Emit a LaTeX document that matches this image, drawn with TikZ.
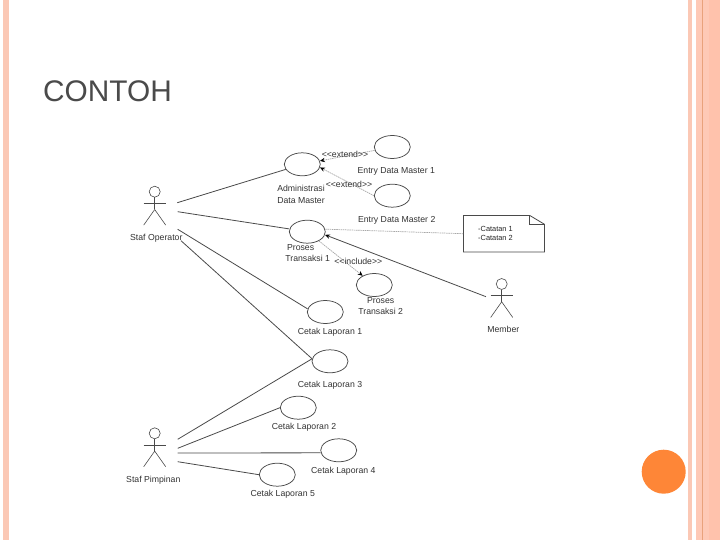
\documentclass[tikz,border=0pt]{standalone}
\usepackage{fontspec}
\setmainfont{Liberation Sans}
\usetikzlibrary{shapes.geometric,arrows.meta}
\definecolor{stripeA}{HTML}{FBC8B5}
\definecolor{stripeB}{HTML}{FEC9B6}
\definecolor{stripeC}{HTML}{FFC2AC}
\definecolor{stripeLine}{HTML}{E9A27C}
\definecolor{dotOrange}{HTML}{FE8637}
\definecolor{lineDark}{HTML}{4A4A4A}
\definecolor{lineFaint}{HTML}{A8A8A8}
\definecolor{titleGray}{HTML}{4A4A4A}
\tikzset{
  x=1pt,y=-1pt,
  usecase/.style={ellipse,draw=lineDark,line width=0.75pt,minimum width=36pt,minimum height=23pt,inner sep=0pt,fill=white},
  lab/.style={font=\fontsize{8.7}{11.3}\selectfont,text=black!80,inner sep=0pt,align=center,yshift=-1pt},
  smalllab/.style={font=\fontsize{7.4}{9}\selectfont,text=black!85,inner sep=0pt,align=left,yshift=-1pt},
  assoc/.style={draw=lineDark,line width=0.8pt},
  faint/.style={draw=lineFaint,line width=0.7pt,dash pattern=on 1.5pt off 0.7pt},
  faintarrow/.style={faint,-{Stealth[length=5pt,width=4.4pt,black]}},
  actorline/.style={draw=lineDark,line width=0.6pt},
  stripe/.style={fill=#1,draw=none},
}
\newcommand{\stickman}[3]{%
  \node[circle,draw=lineDark,line width=0.6pt,minimum size=11pt,inner sep=0pt] (#3) at (#1,#2) {};
  \draw[actorline] (#3.south) -- ++(0,12) coordinate (#3hip);
  \draw[actorline] (#1-11,#2+11.5) -- (#1+11,#2+11.5);
  \draw[actorline] (#1-11,#2+33.4) -- (#3hip) -- (#1+11,#2+33.4);
}
\begin{document}
\begin{tikzpicture}
\useasboundingbox (0,0) rectangle (720,540);
\fill[white] (0,0) rectangle (720,540);
% slide decoration
\fill[stripe=stripeA] (3,0) rectangle (9,540);
\fill[stripe=stripeA] (688,0) rectangle (692,540);
\fill[stripe=stripeB] (696,0) rectangle (709,540);
\fill[stripe=stripeC] (709,0) rectangle (720,540);
\fill[stripeLine] (702,0) rectangle (703,540);
\node[circle,fill=dotOrange,minimum size=44pt,inner sep=0pt] (dot) at (663.7,471.7) {};
\node[font=\fontsize{29.8}{32}\selectfont,text=titleGray,inner sep=0pt,anchor=west] (title) at (43,91) {CONTOH};
% use cases
\node[usecase] (uA) at (302.3,164.3) {};
\node[usecase] (uE1) at (392.3,147) {};
\node[usecase] (uE2) at (392.3,195.7) {};
\node[usecase] (uP1) at (307.3,231.7) {};
\node[usecase] (uP2) at (374.3,285) {};
\node[usecase] (uC1) at (325.3,312) {};
\node[usecase] (uC3) at (330,361.3) {};
\node[usecase] (uC2) at (298.3,407.7) {};
\node[usecase] (uC4) at (338.7,450.3) {};
\node[usecase] (uC5) at (277.3,474.7) {};
% actors
\stickman{154.7}{191.7}{aOp}
\stickman{154.7}{433.3}{aPi}
\stickman{501.7}{284}{aMe}
% note
\node[minimum width=80.6pt,minimum height=36pt,inner sep=0pt] (note) at (504,233.7) {};
\draw[lineDark,line width=0.8pt,fill=white] (note.north west) -- ++(66.3,0) coordinate (foldA) -- (note.east |- 0,224.3) coordinate (foldB) -- (note.south east) -- (note.south west) -- cycle;
\draw[lineDark,line width=0.7pt] (foldA) -- (foldA |- foldB) -- (foldB);
% free ends
\coordinate (op1) at (177.3,202.7);
\coordinate (op2) at (177.7,211.7);
\coordinate (op3) at (177.7,229.3);
\coordinate (op4) at (181,240.7);
\coordinate (pi1) at (177.7,439.3);
\coordinate (pi2) at (177.7,448.3);
\coordinate (pi3) at (177.7,453);
\coordinate (pi4) at (177.7,461.7);
\coordinate (me1) at (486,296.7);
% connectors
\draw[assoc] (op1) -- (uA);
\draw[assoc] (op2) -- (uP1);
\draw[assoc] (op3) -- (uC1.170);
\draw[assoc] (op4) -- (uC3.172);
\draw[assoc] (pi1) -- (uC3.172);
\draw[assoc] (pi2) -- (uC2.west);
\draw[assoc] (pi3) -- (uC4.188);
\draw[assoc] (pi4) -- (uC5.west);
\draw[assoc,-{Stealth[length=5pt,width=4.4pt,black]}] (me1) -- (uP1.350);
\draw[faintarrow] (uE1) -- (uA);
\draw[faintarrow] (uE2.west) -- (uA.350);
\draw[faintarrow] (uP1) -- (uP2);
\draw[faint] (uP1.8) -- (note.west);
% labels
\node[lab] (tE1) at (396.3,170.7) {Entry Data Master 1};
\node[lab] (tE2) at (396.7,219.7) {Entry Data Master 2};
\node[lab,align=left] (tA) at (301,193.5) {Administrasi\\Data Master};
\node[lab] (tX1) at (345,153) {<{}<extend>{}>};
\node[lab] (tX2) at (349,183.7) {<{}<extend>{}>};
\node[lab] (tI) at (358.3,260) {<{}<include>{}>};
\node[lab,align=left] (tP1) at (307.7,251.8) {\hspace*{1.7pt}Proses\\Transaksi 1};
\node[lab] (tP2) at (380.7,305.3) {Proses\\Transaksi 2};
\node[smalllab] (tN) at (495.5,232.8) {-Catatan 1\\-Catatan 2};
\node[lab] (tC1) at (330,331.3) {Cetak Laporan 1};
\node[lab] (tC3) at (330,384.7) {Cetak Laporan 3};
\node[lab] (tC2) at (304,426.7) {Cetak Laporan 2};
\node[lab] (tC4) at (343.3,470) {Cetak Laporan 4};
\node[lab] (tC5) at (282.7,493.7) {Cetak Laporan 5};
\node[lab] (tOp) at (156.3,237.3) {Staf Operator};
\node[lab] (tPi) at (153.3,479) {Staf Pimpinan};
\node[lab] (tMe) at (503.3,328.3) {Member};
\end{tikzpicture}
\end{document}
